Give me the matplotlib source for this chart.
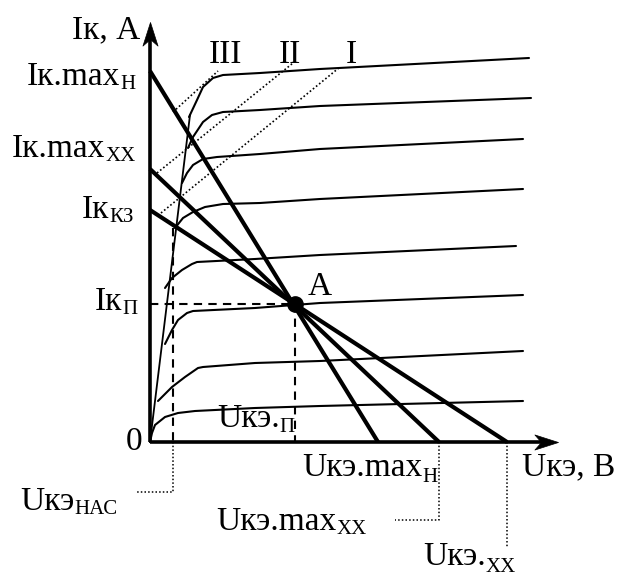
import matplotlib
matplotlib.use("Agg")
import matplotlib.pyplot as plt
from matplotlib.path import Path

# ---- Output characteristics Iк(Uкэ), arbitrary units, one curve per base current
curve_u = [
    [3.9, 4.7, 5.3, 6.3, 7.3, 11.0, 17.0, 37.9],
    [3.8, 4.3, 5.3, 6.2, 7.3, 11.0, 17.0, 38.1],
    [3.2, 3.7, 4.3, 5.3, 6.7, 11.0, 17.0, 37.3],
    [2.5, 3.3, 4.3, 5.5, 7.3, 11.0, 17.0, 37.3],
    [1.5, 2.2, 3.2, 4.2, 4.7, 10.5, 17.0, 36.6],
    [1.5, 2.2, 2.8, 3.7, 4.3, 10.5, 17.0, 37.3],
    [0.8, 2.2, 3.5, 4.8, 5.3, 10.5, 17.0, 37.3],
    [0.0, 0.2, 0.5, 1.5, 2.8, 4.5, 10.5, 17.0, 37.3],
]
curve_i = [
    [32.5, 34.2, 35.5, 36.4, 36.7, 36.9, 37.3, 38.4],
    [29.4, 30.5, 32.0, 32.7, 33.0, 33.2, 33.6, 34.4],
    [25.9, 26.9, 27.7, 28.3, 28.5, 28.8, 29.3, 30.3],
    [21.4, 22.4, 23.0, 23.5, 23.8, 23.9, 24.3, 25.3],
    [15.4, 16.4, 17.2, 17.8, 18.0, 18.3, 18.7, 19.6],
    [9.8, 11.2, 12.2, 12.9, 13.1, 13.4, 13.9, 14.7],
    [4.1, 5.5, 6.5, 7.4, 7.5, 7.9, 8.1, 9.1],
    [0.0, 0.9, 1.7, 2.5, 2.9, 3.1, 3.4, 3.6, 4.1],
]

# Saturation line (steep part)
sat_u = [0.0, 4.0]
sat_i = [0.0, 32.7]
u_sat = 2.3          # Uкэ нас
i_sat_top = 21.4

# Load lines: current intercept (U=0) and voltage intercept (I=0)
load_i0 = [37.1, 27.3, 23.2]   # Iк.maxН, Iк.maxХХ, IкКЗ
load_u0 = [22.8, 28.9, 35.7]   # Uкэ.maxН, Uкэ.maxХХ, Uкэ.ХХ

# Operating point A
u_q, i_q = 14.5, 13.8

# Boundary lines I, II, III
bound_names = ["III", "II", "I"]
bound_u = [[2.3, 6.8], [0.7, 14.3], [1.1, 19.0]]
bound_i = [[33.0, 37.1], [26.9, 37.9], [22.9, 37.5]]

# Axes extents (arrow tips)
u_axis_end = 40.8
i_axis_end = 42.0

FONT = "Liberation Serif"
MAIN = 24
SUB = 15

fig = plt.figure(figsize=(6.21, 5.79), dpi=100)
ax = fig.add_axes([0, 0, 1, 1])
ax.set_xlim(-15.0, 47.1)
ax.set_ylim(-13.7, 44.2)
ax.axis("off")

# characteristic curves
for us, is_ in zip(curve_u, curve_i):
    ax.plot(us, is_, color="black", lw=1.5, solid_joinstyle="round",
            solid_capstyle="round")
ax.plot(sat_u, sat_i, color="black", lw=1.3)

# boundary dotted lines
for us, is_ in zip(bound_u, bound_i):
    ax.plot(us, is_, color="black", lw=1.2, ls=(0, (1, 1.4)))

# load lines
for i0, u0 in zip(load_i0, load_u0):
    ax.plot([0, u0], [i0, 0], color="black", lw=3.0, solid_capstyle="butt")

# dashed projections of the operating point and Uкэ нас
dash = (0, (4, 3))
ax.plot([0, u_q], [i_q, i_q], color="black", lw=1.5, ls=dash)
ax.plot([u_q, u_q], [i_q, 0], color="black", lw=1.5, ls=dash)
ax.plot([u_sat, u_sat], [i_sat_top, 0], color="black", lw=1.5, ls=dash)

# dotted leaders below the voltage axis
dot = (0, (1, 1.4))
ax.plot([u_sat, u_sat, -1.4], [0, -5.0, -5.0], color="black", lw=1.1, ls=dot)
ax.plot([load_u0[1], load_u0[1], 24.5], [0, -7.8, -7.8], color="black", lw=1.1, ls=dot)
ax.plot([load_u0[2], load_u0[2]], [0, -10.5], color="black", lw=1.1, ls=dot)

# axes with stealth arrowheads
ax.plot([0, 0], [0, i_axis_end - 1.2], color="black", lw=2.6, solid_capstyle="butt")
ax.plot([0, u_axis_end - 1.2], [0, 0], color="black", lw=2.6, solid_capstyle="butt")
head_right = Path([(0, 0), (-1, 0.32), (-0.72, 0), (-1, -0.32), (0, 0)],
                  [Path.MOVETO, Path.LINETO, Path.LINETO, Path.LINETO, Path.CLOSEPOLY])
head_up = Path([(0, 0), (0.32, -1), (0, -0.72), (-0.32, -1), (0, 0)],
               [Path.MOVETO, Path.LINETO, Path.LINETO, Path.LINETO, Path.CLOSEPOLY])
ax.plot([u_axis_end], [0], marker=head_right, ms=34, color="black", mew=0.5)
ax.plot([0], [i_axis_end], marker=head_up, ms=34, color="black", mew=0.5)

# operating point
ax.plot([u_q], [i_q], marker="o", ms=11, color="black")

renderer = fig.canvas.get_renderer()
inv = ax.transData.inverted()


def label(x, y, main, sub=None, drop=0.4, ha="left"):
    t = ax.text(x, y, main, fontsize=MAIN, family=FONT, ha=ha, va="baseline")
    if sub:
        bb = t.get_window_extent(renderer)
        x1 = inv.transform((bb.x1, bb.y0))[0]
        ax.text(x1, y - drop, sub, fontsize=SUB, family=FONT, ha="left",
                va="baseline")


label(-1.0, 40.4, "Iк, А", ha="right")
label(-12.3, 35.7, "Iк.max", "Н")
label(-13.8, 28.5, "Iк.max", "ХХ")
label(-6.8, 22.4, "Iк", "КЗ")
label(-5.5, 13.2, "Iк", "П")
label(-2.4, -0.8, "0")
label(15.8, 14.7, "A")
for name, u in zip(bound_names, [7.5, 14.0, 20.1]):
    ax.text(u, 37.9, name, fontsize=MAIN, family=FONT, ha="center", va="baseline")

label(-13.0, -6.8, "Uкэ", "НАС")
label(6.7, 1.5, "Uкэ.", "П", drop=0.5)
label(15.2, -3.4, "Uкэ.max", "Н", drop=0.6)
label(6.6, -8.8, "Uкэ.max", "ХХ")
label(27.3, -12.3, "Uкэ.", "ХХ", drop=0.7)
label(37.2, -3.3, "Uкэ, В")

fig.savefig("out.png", dpi=100)
